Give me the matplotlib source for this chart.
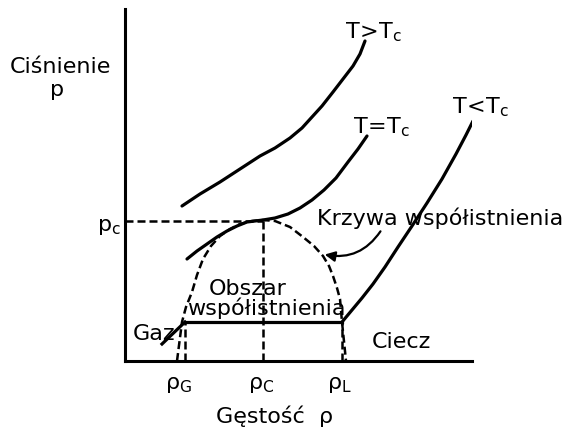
import matplotlib
matplotlib.use('Agg')
from matplotlib import pyplot as plt
from matplotlib.patches import FancyArrowPatch

plt.rcParams['font.family'] = ['DejaVu Sans']
plt.rcParams['mathtext.fontset'] = 'dejavusans'

# izotermy (schemat, jednostki umowne)
ro_nad = [57, 75, 95, 115, 135, 150, 165, 177, 187, 197, 208, 218, 228, 235, 240]
p_nad = [155, 167, 179, 192, 205, 213, 223, 233, 244, 255, 269, 282, 295, 307, 320]

ro_kryt = [62, 72, 82, 92, 102, 112, 122, 138, 150, 163, 175, 187, 199, 211, 223, 233, 242]
p_kryt = [102, 110, 117, 124, 130, 135, 139, 141, 143, 147, 153, 161, 171, 183, 199, 212, 225]

ro_pod_gaz = [37, 60]
p_pod_gaz = [17, 39]
ro_pod_ciecz = [217, 227, 237, 248, 260, 273, 287, 302, 317, 331, 341, 348]
p_pod_ciecz = [39, 51, 63, 77, 94, 114, 135, 158, 182, 207, 226, 240]

# krzywa wspolistnienia
ro_krzywa = [52, 57, 61, 67, 72, 78, 86, 95, 105, 115, 127, 138,
             150, 165, 178, 189, 198, 204, 208, 212, 215, 217, 221]
p_krzywa = [0, 39, 54, 69, 86, 102, 115, 125, 132, 137, 140, 141,
            140, 134, 124, 115, 105, 95, 85, 73, 62, 39, 0]

ro_G, ro_C, ro_L = 60, 138, 217
p_C = 141
p_nasyc = 39

fig = plt.figure(figsize=(5.71, 4.31), dpi=100)
ax = fig.add_axes([125/571, 69/431, 347/571, 352/431])
ax.set_xlim(0, 347)
ax.set_ylim(0, 352)
for s in ['top', 'right']:
    ax.spines[s].set_visible(False)
for s in ['left', 'bottom']:
    ax.spines[s].set_linewidth(2.2)
ax.set_xticks([])
ax.set_yticks([])

lw = 2.3
kw_d = dict(color='black', lw=1.8, dashes=(3.2, 1.6), clip_on=False)

ax.plot(ro_nad, p_nad, color='black', lw=lw, solid_capstyle='round')
ax.plot(ro_kryt, p_kryt, color='black', lw=lw, solid_capstyle='round')
ax.plot(ro_pod_gaz, p_pod_gaz, color='black', lw=lw)
ax.plot([ro_G, ro_L], [p_nasyc, p_nasyc], color='black', lw=lw)
ax.plot(ro_pod_ciecz, p_pod_ciecz, color='black', lw=lw, solid_capstyle='round')

ax.plot(ro_krzywa, p_krzywa, **kw_d)
ax.plot([0, ro_C], [p_C - 1, p_C - 1], **kw_d)
ax.plot([ro_C, ro_C], [0, p_C], **kw_d)
ax.plot([ro_G, ro_G], [0, p_nasyc], **kw_d)
ax.plot([ro_L, ro_L], [0, p_nasyc], **kw_d)

strz = FancyArrowPatch((257, 132), (197, 107), connectionstyle='arc3,rad=-0.35',
                       arrowstyle='-|>,head_length=0.5,head_width=0.25',
                       color='black', lw=1.6, mutation_scale=12)
ax.add_patch(strz)

fs = 16
t = dict(fontsize=fs, clip_on=False)
ax.text(-115, 289, 'Ciśnienie', ha='left', va='baseline', **t)
ax.text(-68, 266, 'p', ha='center', va='baseline', **t)
ax.text(-28, 131, r'$\mathregular{p_c}$', ha='left', va='baseline', **t)
ax.text(220, 324, r'$\mathregular{T\!>\!T_c}$', ha='left', va='baseline', **t)
ax.text(228, 229, r'$\mathregular{T\!=\!T_c}$', ha='left', va='baseline', **t)
ax.text(327, 249, r'$\mathregular{T\!<\!T_c}$', ha='left', va='baseline', **t)
ax.text(192, 137, 'Krzywa współistnienia', ha='left', va='baseline', **t)
ax.text(123, 67, 'Obszar', ha='center', va='baseline', **t)
ax.text(141, 47, 'współistnienia', ha='center', va='baseline', **t)
ax.text(8, 22, 'Gaz', ha='left', va='baseline', **t)
ax.text(247, 14, 'Ciecz', ha='left', va='baseline', **t)
ax.text(40, -27, r'$\mathregular{\rho_G}$', ha='left', va='baseline', **t)
ax.text(123, -27, r'$\mathregular{\rho_C}$', ha='left', va='baseline', **t)
ax.text(202, -27, r'$\mathregular{\rho_L}$', ha='left', va='baseline', **t)
ax.text(150, -61, 'Gęstość  ρ', ha='center', va='baseline', **t)

plt.savefig('out.png', dpi=100)
